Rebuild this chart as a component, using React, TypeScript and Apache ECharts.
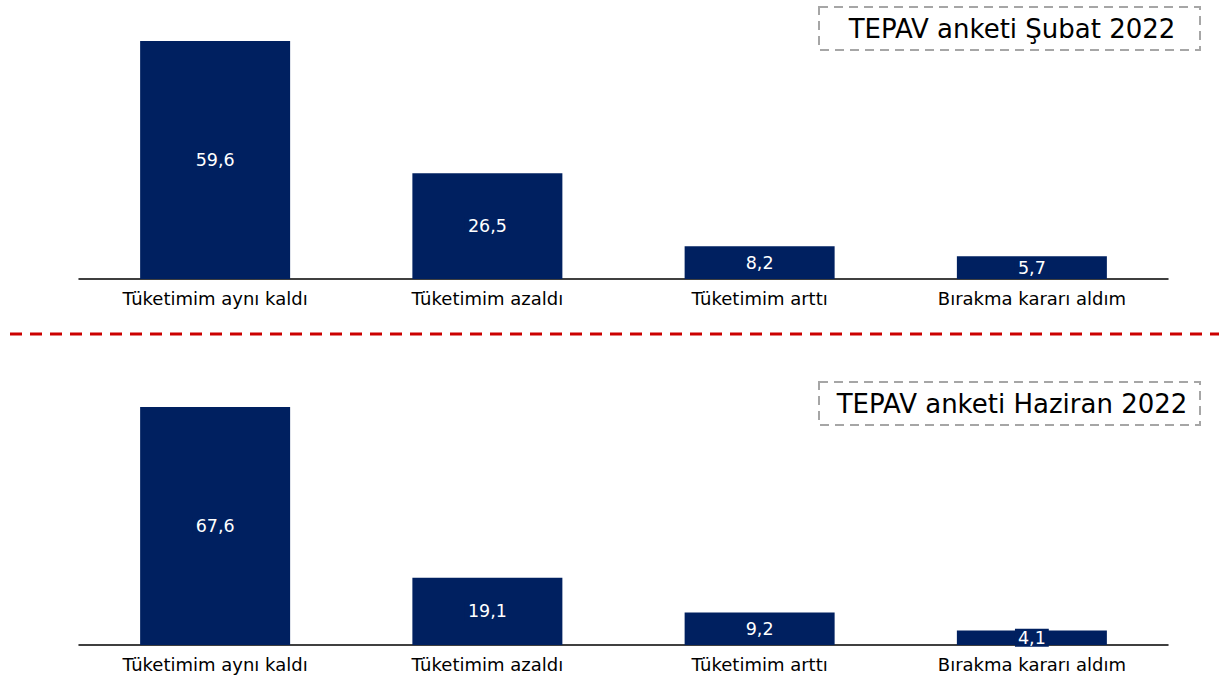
import React, { useEffect, useRef } from "react";
import * as echarts from "echarts";

const categories = ["Tüketimim aynı kaldı", "Tüketimim azaldı", "Tüketimim arttı", "Bırakma kararı aldım"];
const subatValues = [59.6, 26.5, 8.2, 5.7];
const haziranValues = [67.6, 19.1, 9.2, 4.1];
const titles = ["TEPAV anketi Şubat 2022", "TEPAV anketi Haziran 2022"];

const NAVY = "#002060";
const FONT = "DejaVu Sans, Verdana, sans-serif";

export default function App() {
  const ref = useRef<HTMLDivElement>(null);
  useEffect(() => {
    if (!ref.current) return;
    const chart = echarts.init(ref.current, undefined, { renderer: "svg" });
    const fmt = (p: any) => String(p.value).replace(".", ",");
    const mkSeries = (idx: number, data: number[]) => ({
      type: "bar",
      xAxisIndex: idx,
      yAxisIndex: idx,
      data,
      barWidth: 150,
      itemStyle: { color: NAVY },
      label: {
        show: true,
        position: "inside",
        color: "#fff",
        fontSize: 17.5,
        fontFamily: FONT,
        formatter: fmt,
        backgroundColor: NAVY,
        padding: [0, 3],
      },
    });
    const mkX = (idx: number) => ({
      type: "category",
      gridIndex: idx,
      data: categories,
      axisLine: { show: true, lineStyle: { color: "#000", width: 1.5 } },
      axisTick: { show: false },
      axisLabel: { color: "#000", fontSize: 18, fontFamily: FONT, margin: 10, interval: 0 },
    });
    const mkY = (idx: number, max: number) => ({
      type: "value",
      gridIndex: idx,
      min: 0,
      max,
      show: false,
      splitLine: { show: false },
    });
    const boxes = [7, 382].map((y, i) => [
      {
        type: "rect",
        shape: { x: 819, y, width: 381, height: 43 },
        style: { fill: "none", stroke: "#A6A6A6", lineWidth: 2, lineDash: [9, 6] },
      },
      {
        type: "text",
        x: 1012,
        y: y + 21.5,
        style: {
          text: titles[i],
          fontSize: 26,
          fontFamily: FONT,
          fill: "#000",
          align: "center",
          verticalAlign: "middle",
        },
      },
    ]).flat();
    chart.setOption({
      animation: false,
      grid: [
        { left: 79, right: 51, top: 41, height: 238 },
        { left: 79, right: 51, top: 407, height: 238 },
      ],
      xAxis: [mkX(0), mkX(1)],
      yAxis: [mkY(0, 59.6), mkY(1, 67.6)],
      series: [mkSeries(0, subatValues), mkSeries(1, haziranValues)],
      graphic: [
        {
          type: "line",
          shape: { x1: 10, y1: 334, x2: 1219, y2: 334 },
          style: { stroke: "#CC0000", lineWidth: 3, lineDash: [12, 8] },
        },
        ...boxes,
      ],
    });
    return () => chart.dispose();
  }, []);
  return <div ref={ref} style={{ position: "fixed", left: 0, top: 0, width: 1219, height: 684, background: "#fff" }} />;
}
